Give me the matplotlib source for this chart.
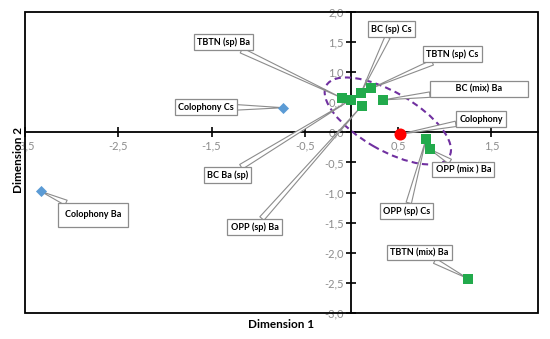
import matplotlib
matplotlib.use("Agg")
import matplotlib.pyplot as plt
from matplotlib.patches import Ellipse, Rectangle
from matplotlib import transforms
from matplotlib.ticker import FuncFormatter, FixedLocator

plt.rcParams['font.family'] = ['Lato', 'DejaVu Sans']

# ---- data ----
blue_labels = ["Colophony Cs", "Colophony Ba"]
blue_x = [-0.73, -3.33]
blue_y = [0.41, -0.98]

red_labels = ["Colophony"]
red_x = [0.52]
red_y = [-0.03]

green_labels = ["TBTN (sp) Ba", "BC Ba (sp)", "BC (sp) Cs", "OPP (sp) Ba",
                "TBTN (sp) Cs", "BC (mix) Ba", "OPP (sp) Cs", "OPP (mix ) Ba",
                "TBTN (mix) Ba"]
green_x = [-0.10, -0.01, 0.10, 0.11, 0.21, 0.34, 0.80, 0.84, 1.25]
green_y = [0.57, 0.54, 0.65, 0.44, 0.73, 0.54, -0.11, -0.28, -2.43]

x_ticks = [-3.5, -2.5, -1.5, -0.5, 0.5, 1.5]
y_ticks = [2.0, 1.5, 1.0, 0.5, 0.0, -0.5, -1.0, -1.5, -2.0, -2.5, -3.0]

# label box positions (data coords), layout only
label_pos = {
    "Colophony Cs": (-1.56, 0.42),
    "Colophony Ba": (-2.77, -1.37),
    "Colophony": (1.39, 0.22),
    "TBTN (sp) Ba": (-1.37, 1.50),
    "BC Ba (sp)": (-1.33, -0.71),
    "BC (sp) Cs": (0.43, 1.72),
    "OPP (sp) Ba": (-1.04, -1.57),
    "TBTN (sp) Cs": (1.08, 1.30),
    "BC (mix) Ba": (1.37, 0.72),
    "OPP (sp) Cs": (0.59, -1.31),
    "OPP (mix ) Ba": (1.20, -0.62),
    "TBTN (mix) Ba": (0.73, -2.00),
}

fig = plt.figure(figsize=(5.5, 3.39), dpi=100)
ax = fig.add_axes([25/550, 26/339, 513/550, 301/339])
ax.set_xlim(-3.5, 2.0)
ax.set_ylim(-3.0, 2.0)

# axes through origin
for s in ['top', 'right']:
    ax.spines[s].set_visible(False)
ax.spines['left'].set_position(('data', 0))
ax.spines['bottom'].set_position(('data', 0))
ax.spines['left'].set_linewidth(1.3)
ax.spines['bottom'].set_linewidth(1.3)
ax.add_patch(Rectangle((0, 0), 1, 1, transform=ax.transAxes, fill=False,
                       ec='black', lw=1.3, clip_on=False, zorder=5))

fmt = FuncFormatter(lambda v, p: f"{v:.1f}".replace('.', ','))
ax.xaxis.set_major_locator(FixedLocator(x_ticks))
ax.yaxis.set_major_locator(FixedLocator(y_ticks))
ax.xaxis.set_major_formatter(fmt)
ax.yaxis.set_major_formatter(fmt)
ax.tick_params(direction='inout', length=7, width=1.2, labelsize=8,
               labelcolor='#8c8c8c', color='black', pad=2)

# data points
ax.scatter(green_x, green_y, marker='s', s=60, color='#22aa4c', zorder=6, lw=0)
ax.scatter(blue_x, blue_y, marker='D', s=32, color='#5b9bd5', zorder=6, lw=0)
ax.scatter(red_x, red_y, marker='o', s=75, color='#ff0000', zorder=6, lw=0)

# callouts
def callout(lbl, x, y):
    tx, ty = label_pos[lbl]
    pad = 0.8 if lbl == "Colophony Ba" else 0.35
    text = lbl
    if lbl == "BC (mix) Ba":
        text = "          " + lbl + "          "
    ax.annotate(text, xy=(x, y), xytext=(tx, ty), ha='center', va='center',
                fontsize=6.5, fontweight='bold', color='black',
                bbox=dict(boxstyle=f'square,pad={pad}', fc='white', ec='#8c8c8c', lw=0.9),
                arrowprops=dict(arrowstyle='wedge,tail_width=0.6,shrink_factor=0.5',
                                fc='white', ec='#8c8c8c', lw=0.8, shrinkA=0, shrinkB=0),
                zorder=4)

for lbl, x, y in zip(blue_labels, blue_x, blue_y):
    callout(lbl, x, y)
for lbl, x, y in zip(red_labels, red_x, red_y):
    callout(lbl, x, y)
for lbl, x, y in zip(green_labels, green_x, green_y):
    callout(lbl, x, y)

# dashed ellipse (in display-inch units, centred at data point)
ell_center = (0.39, 0.19)
trans = fig.dpi_scale_trans + transforms.ScaledTranslation(ell_center[0], ell_center[1], ax.transData)
ax.add_patch(Ellipse((0, 0), 1.42, 0.58, angle=-30, transform=trans, fill=False,
                     ec='#7030a0', lw=1.5, ls=(0, (3, 2)), zorder=3))

fig.text(281.5/550, 1 - 324/339, "Dimension 1", ha='center', va='center',
         fontsize=8.5, fontweight='bold')
fig.text(18/550, 1 - 160/339, "Dimension 2", ha='center', va='center',
         fontsize=8.5, fontweight='bold', rotation=90)

fig.savefig("out.png", dpi=100)
